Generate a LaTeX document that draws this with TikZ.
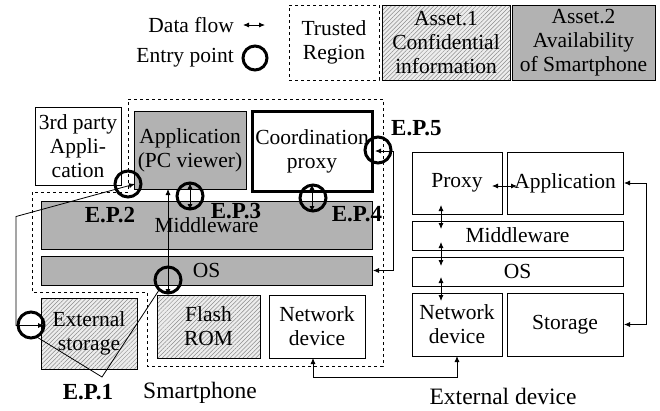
\documentclass[tikz,border=0pt]{standalone}
\usepackage{fontspec}
\setmainfont{Liberation Serif}
\usetikzlibrary{arrows.meta,patterns.meta,calc}
\begin{document}
\begin{tikzpicture}[x=1pt,y=-1pt,
  every node/.style={font=\fontsize{21.5}{24}\selectfont},
  box/.style={draw,line width=0.9pt,rectangle,inner sep=0pt,outer sep=0pt,align=center},
  grayfill/.style={box,fill=black!30},
  hatchfill/.style={box,preaction={fill=black!7},pattern={Lines[angle=45,distance=3pt,line width=0.5pt]},pattern color=black!45},
  thickbox/.style={box,line width=3pt},
  trust/.style={draw,dashed,line width=0.8pt},
  dflow/.style={line width=0.8pt,{Latex[length=6pt,width=5pt]}-{Latex[length=6pt,width=5pt]}},
  epc/.style={circle,draw,line width=3pt,minimum size=26pt,inner sep=0pt,outer sep=0pt},
  eplbl/.style={font=\fontsize{23}{25}\selectfont\bfseries,inner sep=0pt},
  biglbl/.style={font=\fontsize{23.5}{26}\selectfont,inner sep=0pt}
]
\useasboundingbox (0,0) rectangle (660,410);

% legend
\node[anchor=east,inner sep=0pt] (dftxt) at (234,25) {Data flow};
\node[anchor=east,inner sep=0pt] (eptxt) at (234,58) {Entry point};
\draw[dflow] ([xshift=9pt]dftxt.east) -- ++(22pt,0);
\node[epc,minimum size=24pt] (lgc) at (255,58) {};
\node[box,dashed,line width=0.8pt,minimum width=90pt,minimum height=75pt] (trusted) at (334,42.5) {Trusted\\Region};
\node[hatchfill,minimum width=128pt,minimum height=75pt] (asset1) at (446,42.5) {Asset.1\\Confidential\\information};
\node[grayfill,minimum width=143pt,minimum height=75pt] (asset2) at (583.5,42.5) {Asset.2\\Availability\\of Smartphone};

% trusted region of smartphone
\draw[trust] (128,99) -- (383,99) -- (383,366) -- (147,366) -- (147,292) -- (32,292) -- (32,192) -- (128,192) -- cycle;

% smartphone
\node[box,minimum width=86pt,minimum height=78pt] (third) at (78,146) {3rd party\\Appli-\\cation};
\node[grayfill,minimum width=112pt,minimum height=78pt] (app) at (190,150) {Application\\(PC viewer)};
\node[thickbox,minimum width=120pt,minimum height=80pt] (coord) at (312,151) {Coordination\\proxy};
\node[grayfill,minimum width=331pt,minimum height=48pt] (mw) at (206.5,225) {\raisebox{-4pt}{Middleware}};
\node[grayfill,minimum width=331pt,minimum height=29pt] (os) at (206.5,270.5) {OS};
\node[hatchfill,minimum width=96pt,minimum height=71pt] (extst) at (89,333.5) {External\\storage};
\node[hatchfill,minimum width=103pt,minimum height=63pt] (flash) at (208.5,326.5) {Flash\\ROM};
\node[box,minimum width=96pt,minimum height=63pt] (netdev) at (317,326.5) {Network\\device};

% external device
\node[box,minimum width=90pt,minimum height=62pt] (eproxy) at (457,183) {Proxy};
\node[box,minimum width=116pt,minimum height=62pt] (eapp) at (565,183) {Application};
\node[box,minimum width=211pt,minimum height=29pt] (emw) at (517.5,235.5) {Middleware};
\node[box,minimum width=211pt,minimum height=29pt] (eos) at (517.5,271.5) {OS};
\node[box,minimum width=90pt,minimum height=63pt] (enet) at (457,324.5) {Network\\device};
\node[box,minimum width=116pt,minimum height=63pt] (estor) at (565,324.5) {Storage};

% data flows smartphone
\draw[dflow] ([xshift=3pt,yshift=8pt]extst.west) -- ++(-28pt,0) -- ++(0,109pt) -- ([xshift=1pt,yshift=-34pt]app.west);
\draw[dflow] ([xshift=-22pt]app.south) -- ([xshift=-22pt]app.south |- flash.north);
\draw[dflow] ([yshift=6pt]app.south) -- ($(app.south |- mw.north)+(0,-9pt)$);
\draw[dflow] ([yshift=7pt]coord.south) -- ($(coord.south |- mw.north)+(0,-11pt)$);
\draw[dflow] ([xshift=3pt]coord.east) -- ++(18pt,0) |- ([xshift=1pt]os.east);
\draw[dflow] ([xshift=-4pt]netdev.south) -- ++(0,-19pt) -| (enet.south);

% data flows external device
\draw[dflow] ([xshift=-10pt,yshift=-3pt]eproxy.east) -- ([xshift=10pt,yshift=-3pt]eapp.west);
\draw[dflow] ($(eproxy.south)+(-16pt,9pt)$) -- ($(eproxy.south |- emw.north)+(-16pt,-8pt)$);
\draw[dflow] ($(eproxy.south |- emw.south)+(-16pt,8pt)$) -- ($(eproxy.south |- eos.north)+(-16pt,-9pt)$);
\draw[dflow] ($(eproxy.south |- eos.south)+(-16pt,9pt)$) -- ($(enet.north)+(-16pt,-8pt)$);
\draw[dflow] ([xshift=1pt]eapp.east) -- ++(22pt,0) |- ([xshift=1pt]estor.east);

% entry points
\node[epc] (ep2c) at (128,184) {};
\node[epc] (ep3c) at (190,196) {};
\node[epc] (ep4c) at (313,198) {};
\node[epc] (ep5c) at (378,150) {};
\node[epc] (ep1a) at (168,280) {};
\node[epc] (ep1b) at (31,325) {};
\coordinate (apex) at (102,377);
\draw[line width=0.8pt] (ep1b.-65) -- (apex) -- (ep1a.-132);

% labels
\node[eplbl] (ep1l) at (88,392) {E.P.1};
\node[eplbl] (ep2l) at (110,215) {E.P.2};
\node[eplbl] (ep3l) at (236,211) {E.P.3};
\node[eplbl] (ep4l) at (357,214) {E.P.4};
\node[eplbl,anchor=west] (ep5l) at (391,128) {E.P.5};
\node[biglbl] (smart) at (200,393) {Smartphone};
\node[biglbl] (extdev) at (503,396) {External device};
\end{tikzpicture}
\end{document}
